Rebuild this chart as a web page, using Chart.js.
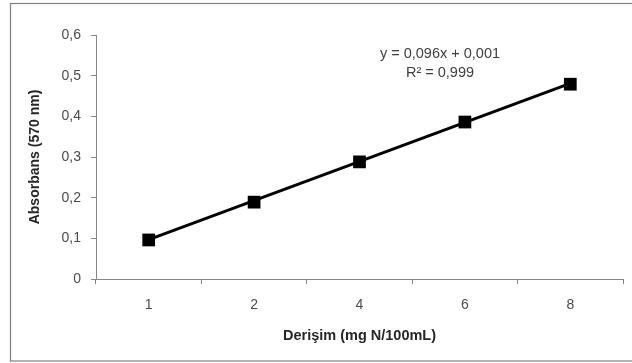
<!DOCTYPE html>
<html>
<head>
<meta charset="utf-8">
<script src="https://cdn.jsdelivr.net/npm/chart.js@4"></script>
<style>
  html, body { margin: 0; padding: 0; background: #fff; }
  #wrap { width: 632px; height: 363px; }
</style>
</head>
<body>
<div id="wrap"><canvas id="chart" width="632" height="363"></canvas></div>
<script>
// values
const concentrations = ["1", "2", "4", "6", "8"];
const absorbance = [0.096, 0.189, 0.288, 0.386, 0.479];
// linear trendline end points (y = 0,096x + 0,001)
const trendline = [0.097, null, null, null, 0.481];
const yTicks = [0, 0.1, 0.2, 0.3, 0.4, 0.5, 0.6];
const equationLines = ["y = 0,096x + 0,001", "R² = 0,999"];

const FONT = "'Liberation Sans', Arial, sans-serif";
const axisGray = "#868686";

// frame round the chart + trendline label
const extras = {
  id: "extras",
  afterDraw(chart) {
    const ctx = chart.ctx;
    ctx.save();
    ctx.strokeStyle = "#7f7f7f";
    ctx.lineWidth = 1.2;
    ctx.strokeRect(10.5, 3.5, 640, 357.5);

    ctx.fillStyle = "#404040";
    ctx.font = "14.5px " + FONT;
    ctx.textAlign = "center";
    ctx.textBaseline = "middle";
    ctx.fillText(equationLines[0], 440, 54);
    ctx.fillText(equationLines[1], 440, 73);
    ctx.restore();
  }
};

new Chart(document.getElementById("chart"), {
  type: "line",
  data: {
    labels: concentrations,
    datasets: [
      {
        label: "Absorbans",
        data: absorbance,
        showLine: false,
        pointStyle: "rect",
        pointRadius: 9,
        pointBackgroundColor: "#000",
        pointBorderColor: "#000",
        pointBorderWidth: 0,
        order: 1
      },
      {
        label: "Trend",
        data: trendline,
        spanGaps: true,
        borderColor: "#000",
        borderWidth: 3,
        pointRadius: 0,
        fill: false,
        order: 2
      }
    ]
  },
  options: {
    responsive: false,
    animation: false,
    layout: { padding: { left: 0, right: 7, top: 35, bottom: 0 } },
    plugins: {
      legend: { display: false },
      tooltip: { enabled: false }
    },
    scales: {
      x: {
        type: "category",
        offset: true,
        grid: {
          offset: true,
          drawOnChartArea: false,
          drawTicks: true,
          tickLength: 5,
          color: axisGray
        },
        border: { color: axisGray, width: 1 },
        ticks: {
          color: "#4a4a4a",
          padding: 13,
          font: { family: FONT, size: 14 },
          maxRotation: 0
        },
        title: {
          display: true,
          text: "Derişim (mg N/100mL)",
          color: "#262626",
          font: { family: FONT, size: 14.5, weight: "bold" },
          padding: { top: 0, bottom: 18 }
        },
        afterFit(scale) { scale.height = 84; }
      },
      y: {
        min: 0,
        max: 0.6,
        afterBuildTicks(scale) {
          scale.ticks = yTicks.map(v => ({ value: v }));
        },
        grid: {
          drawOnChartArea: false,
          drawTicks: true,
          tickLength: 5,
          color: axisGray
        },
        border: { color: axisGray, width: 1 },
        ticks: {
          color: "#4a4a4a",
          padding: 10,
          font: { family: FONT, size: 14 },
          callback: v => v === 0 ? "0" : v.toFixed(1).replace(".", ",")
        },
        title: {
          display: true,
          text: "Absorbans (570 nm)",
          color: "#262626",
          font: { family: FONT, size: 14, weight: "bold" },
          padding: { top: 27, bottom: 0 }
        },
        afterFit(scale) { scale.width = 96; }
      }
    }
  },
  plugins: [extras]
});
</script>
</body>
</html>
